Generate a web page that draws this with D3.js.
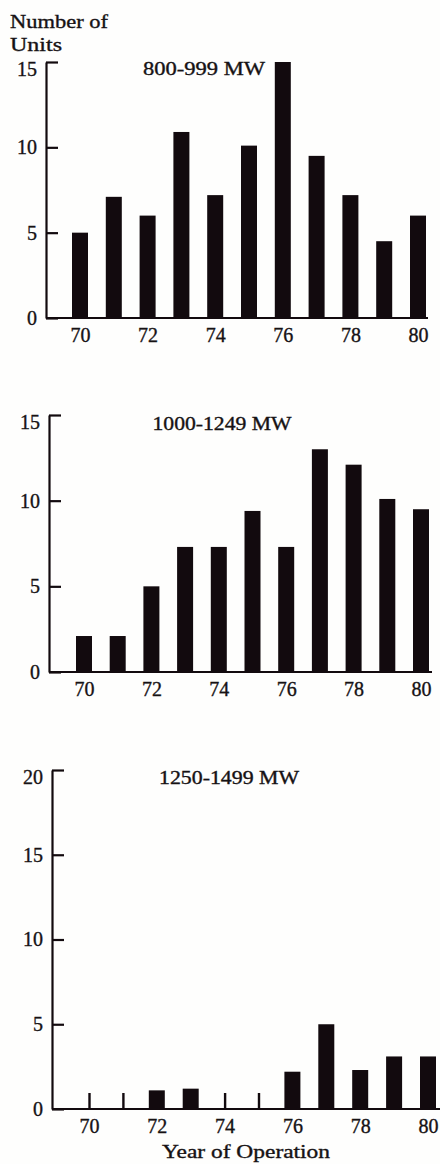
<!DOCTYPE html>
<html>
<head>
<meta charset="utf-8">
<script src="https://cdn.jsdelivr.net/npm/d3@7"></script>
<style>
  body { margin: 0; background: #fefefd; }
  svg { display: block; }
  text { font-family: "Liberation Serif", "DejaVu Serif", serif; fill: #161214; stroke: #161214; stroke-width: 0.35px; }
</style>
</head>
<body>
<svg id="chart" width="440" height="1164"></svg>
<script>
// data
const years = [70, 71, 72, 73, 74, 75, 76, 77, 78, 79, 80];
const yearLabels = [70, 72, 74, 76, 78, 80];
const units800 = [5, 7.1, 6, 10.9, 7.2, 10.1, 15, 9.5, 7.2, 4.5, 6];
const units1000 = [2.1, 2.1, 5, 7.3, 7.3, 9.4, 7.3, 13, 12.1, 10.1, 9.5];
const units1250 = [0, 0, 1.1, 1.2, 0, 0, 2.2, 5, 2.3, 3.1, 3.1];
const ticks15 = [0, 5, 10, 15];
const ticks20 = [0, 5, 10, 15, 20];

const svg = d3.select("#chart");
const ink = "#120a0e";

// panel layout
const panels = [
  {title: "800-999 MW", values: units800, ticks: ticks15, max: 15,
   axisX: 46, base: 318, top: 62, x70: 80, x80: 418, right: 428, titleX: 204, titleY: 75, titleW: 122},
  {title: "1000-1249 MW", values: units1000, ticks: ticks15, max: 15,
   axisX: 49, base: 672, top: 415, x70: 84, x80: 421, right: 432, titleX: 222, titleY: 430, titleW: 139},
  {title: "1250-1499 MW", values: units1250, ticks: ticks20, max: 20,
   axisX: 52, base: 1109, top: 770, x70: 89, x80: 428, right: 440, titleX: 229, titleY: 784, titleW: 140}
];

const barW = 16;

panels.forEach(function(p){
  var x = d3.scaleLinear().domain([70, 80]).range([p.x70, p.x80]);
  var y = d3.scaleLinear().domain([0, p.max]).range([p.base, p.top]);
  var g = svg.append("g");

  // small year ticks (only seen where a bar is missing)
  g.append("g")
    .attr("transform", "translate(0," + p.base + ")")
    .call(d3.axisBottom(x).tickValues(years).tickSizeInner(-16).tickSizeOuter(0).tickFormat(""))
    .call(function(a){
      a.select(".domain").remove();
      a.selectAll("line").attr("stroke", ink).attr("stroke-width", 2.4);
    });

  // bars
  g.selectAll("rect")
    .data(p.values)
    .enter()
    .append("rect")
    .attr("x", function(d, i){ return x(years[i]) - barW / 2; })
    .attr("y", function(d){ return y(d); })
    .attr("width", barW)
    .attr("height", function(d){ return p.base - y(d); })
    .attr("fill", ink);

  // baseline
  g.append("line")
    .attr("x1", p.axisX).attr("x2", p.right)
    .attr("y1", p.base).attr("y2", p.base)
    .attr("stroke", ink).attr("stroke-width", 2.2);

  // year labels
  g.append("g")
    .attr("transform", "translate(0," + p.base + ")")
    .call(d3.axisBottom(x).tickValues(yearLabels).tickSize(0).tickPadding(10))
    .call(function(a){
      a.select(".domain").remove();
      a.selectAll("text").attr("font-size", 20).attr("font-family", null);
    });

  // y axis, ticks pointing inward
  g.append("g")
    .attr("transform", "translate(" + p.axisX + ",0)")
    .call(d3.axisLeft(y).tickValues(p.ticks).tickSizeInner(-12).tickSizeOuter(0).tickPadding(9))
    .call(function(a){
      a.select(".domain").attr("stroke", ink).attr("stroke-width", 2.2);
      a.selectAll("line").attr("stroke", ink).attr("stroke-width", 2.2);
      a.selectAll("text").attr("font-size", 20).attr("font-family", null);
      // the top label sits a little under its tick
      a.selectAll("text").filter(function(d){ return d === p.max; }).attr("y", 7);
    });

  g.append("text")
    .attr("x", p.titleX - p.titleW / 2)
    .attr("y", p.titleY)
    .attr("font-size", 18)
    .attr("textLength", p.titleW)
    .attr("lengthAdjust", "spacingAndGlyphs")
    .text(p.title);
});

svg.append("text")
  .attr("x", 10).attr("y", 28)
  .attr("font-size", 19)
  .attr("textLength", 98)
  .attr("lengthAdjust", "spacingAndGlyphs")
  .text("Number of");

svg.append("text")
  .attr("x", 10).attr("y", 51)
  .attr("font-size", 19)
  .attr("textLength", 52)
  .attr("lengthAdjust", "spacingAndGlyphs")
  .text("Units");

svg.append("text")
  .attr("x", 162).attr("y", 1158)
  .attr("font-size", 18)
  .attr("textLength", 168)
  .attr("lengthAdjust", "spacingAndGlyphs")
  .text("Year of Operation");
</script>
</body>
</html>
